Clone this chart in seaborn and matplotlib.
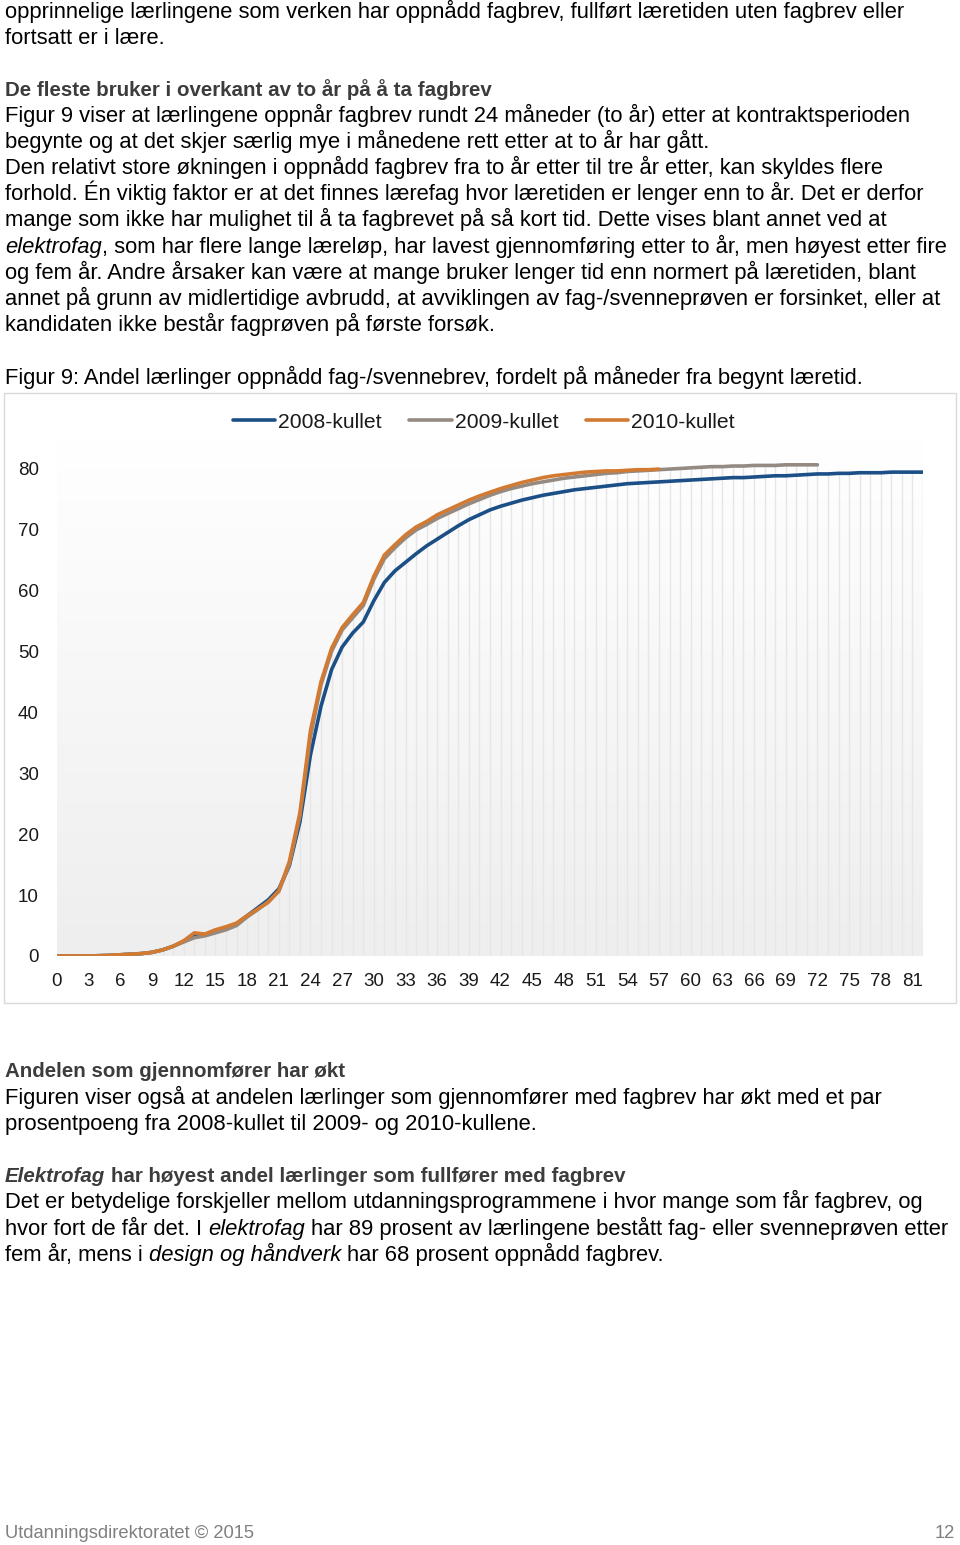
import numpy as np
import pandas as pd
import seaborn as sns
import matplotlib.pyplot as plt
from matplotlib.colors import LinearSegmentedColormap
from matplotlib.patches import Rectangle

# share (%) of apprentices with trade certificate, by month since start
kull_2008 = [0, 0, 0, 0, 0.05, 0.1, 0.2, 0.3, 0.4, 0.6, 1.0, 1.6, 2.4, 3.3, 3.5, 4.1, 4.7, 5.3,
             6.6, 7.9, 9.2, 11.0, 14.8, 22.0, 33.0, 41.0, 47.0, 50.7, 53.0, 54.8, 58.3, 61.3,
             63.2, 64.6, 66.0, 67.3, 68.4, 69.5, 70.6, 71.6, 72.4, 73.2, 73.8, 74.3, 74.8, 75.2,
             75.6, 75.9, 76.2, 76.5, 76.7, 76.9, 77.1, 77.3, 77.5, 77.6, 77.7, 77.8, 77.9, 78.0,
             78.1, 78.2, 78.3, 78.4, 78.5, 78.5, 78.6, 78.7, 78.8, 78.8, 78.9, 79.0, 79.1, 79.1,
             79.2, 79.2, 79.3, 79.3, 79.3, 79.4, 79.4, 79.4, 79.4]
kull_2009 = [0, 0, 0, 0, 0.05, 0.1, 0.2, 0.3, 0.4, 0.6, 1.0, 1.6, 2.3, 3.0, 3.3, 3.8, 4.3, 5.0,
             6.4, 7.6, 8.9, 10.6, 15.0, 23.0, 36.0, 44.5, 50.0, 53.5, 55.5, 57.5, 61.8, 65.2,
             67.0, 68.6, 69.9, 70.8, 71.8, 72.6, 73.4, 74.2, 74.9, 75.6, 76.2, 76.7, 77.1, 77.5,
             77.8, 78.1, 78.4, 78.6, 78.8, 79.0, 79.2, 79.3, 79.5, 79.6, 79.7, 79.8, 79.9, 80.0,
             80.1, 80.2, 80.3, 80.3, 80.4, 80.4, 80.5, 80.5, 80.5, 80.6, 80.6, 80.6, 80.6]
kull_2010 = [0, 0, 0, 0, 0.05, 0.1, 0.2, 0.3, 0.4, 0.6, 1.0, 1.6, 2.5, 3.8, 3.6, 4.3, 4.8, 5.4,
             6.6, 7.7, 8.8, 10.7, 15.5, 23.5, 37.0, 45.0, 50.5, 53.9, 56.0, 58.0, 62.3, 65.8,
             67.5, 69.1, 70.4, 71.3, 72.4, 73.2, 74.0, 74.8, 75.5, 76.1, 76.7, 77.2, 77.7, 78.1,
             78.5, 78.8, 79.0, 79.2, 79.4, 79.5, 79.6, 79.6, 79.7, 79.8, 79.8, 79.9]
kull_navn = ['2008-kullet', '2009-kullet', '2010-kullet']
kull_farger = ['#1b4f86', '#948a82', '#d27a32']
y_ticks = [0, 10, 20, 30, 40, 50, 60, 70, 80]
x_ticks = list(range(0, 82, 3))

W, H = 960, 1545
sns.set_style('white')
plt.rcParams['font.family'] = ['Liberation Sans', 'DejaVu Sans']

fig = plt.figure(figsize=(W / 100, H / 100), dpi=100)
renderer = fig.canvas.get_renderer()

rows = []
for navn, verdier in zip(kull_navn, [kull_2008, kull_2009, kull_2010]):
    for m, v in enumerate(verdier):
        rows.append({'maaned': m, 'andel': v, 'kull': navn})
df = pd.DataFrame(rows)

# chart frame
fig.patches.append(Rectangle((4 / W, 1 - 1003 / H), 952 / W, 610 / H, transform=fig.transFigure,
                             fill=False, edgecolor='#d9d9d9', linewidth=1))

ax = fig.add_axes([57 / W, 1 - 956 / H, 866 / W, 518 / H])
cmap = LinearSegmentedColormap.from_list('bg', ['#eeeeee', '#ffffff'])
ax.imshow(np.linspace(1, 0, 256).reshape(-1, 1), cmap=cmap, aspect='auto',
          extent=[0, 82, 0, 85], zorder=0, vmin=0, vmax=1)

# faint vertical category lines under the curves
topp = df.groupby('maaned')['andel'].max()
ax.vlines(topp.index, 0, topp.values, colors='#e6e6e6', linewidth=1.0, zorder=1)

sns.lineplot(data=df, x='maaned', y='andel', hue='kull', palette=kull_farger,
             linewidth=2.6, ax=ax, zorder=3)
handles, labels = ax.get_legend_handles_labels()
ax.get_legend().remove()
for h in handles:
    h.set_linewidth(2.6)

ax.set_xlim(0, 82)
ax.set_ylim(0, 85)
ax.set_xticks(x_ticks)
ax.set_xticklabels([str(t) for t in x_ticks])
ax.set_yticks(y_ticks)
ax.set_yticklabels([str(t) for t in y_ticks])
ax.tick_params(axis='both', length=0, labelsize=13.5, colors='#1a1a1a')
ax.tick_params(axis='y', pad=13)
ax.tick_params(axis='x', pad=12.5)
ax.set_xlabel('')
ax.set_ylabel('')
ax.grid(False)
sns.despine(ax=ax, left=True, bottom=True)

fig.legend(handles, labels, loc='center', bbox_to_anchor=(484 / W, 1 - 422 / H), ncol=3,
           frameon=False, fontsize=15.2, handlelength=2.0, handletextpad=0.15,
           columnspacing=1.3, labelcolor='#1a1a1a')

# page text
narrow = ['Liberation Sans Narrow', 'DejaVu Sans Condensed', 'Liberation Sans']


def text_width(s, **kw):
    t = fig.text(0, 0, s, **kw)
    w = t.get_window_extent(renderer).width
    t.remove()
    return w


body_size = 10 * 915 / text_width(
    'Figur 9 viser at lærlingene oppnår fagbrev rundt 24 måneder (to år) etter at kontraktsperioden',
    fontsize=10, family=['Liberation Sans'])
head_size = 10 * 489 / text_width('De fleste bruker i overkant av to år på å ta fagbrev',
                                  fontsize=10, family=narrow, weight='bold')
foot_size = 10 * 251 / text_width('Utdanningsdirektoratet © 2015', fontsize=10, family=narrow)

styles = {
    'n': dict(family=['Liberation Sans'], fontsize=body_size, color='#000000'),
    'i': dict(family=['Liberation Sans'], fontsize=body_size, color='#000000', style='italic'),
    'h': dict(family=narrow, fontsize=head_size, color='#3c3c3c', weight='bold'),
    'hi': dict(family=narrow, fontsize=head_size, color='#3c3c3c', weight='bold', style='italic'),
    'f': dict(family=narrow, fontsize=foot_size, color='#808080'),
}
space = {k: text_width('a a', **v) - text_width('aa', **v) for k, v in styles.items()}


def draw_line(y, runs, x=5):
    # y is the visual middle of the line; place on a common baseline
    for txt, st in runs:
        size_px = styles[st]['fontsize'] * 100 / 72
        base = y + 0.34 * size_px
        if txt.startswith(' '):
            x += space[st]
        t = fig.text(x / W, 1 - base / H, txt.strip(), va='baseline', ha='left', **styles[st])
        x = t.get_window_extent(renderer).x1
        if txt.endswith(' '):
            x += space[st]


lines = [
    (11, [('opprinnelige lærlingene som verken har oppnådd fagbrev, fullført læretiden uten fagbrev eller', 'n')]),
    (37, [('fortsatt er i lære.', 'n')]),
    (89, [('De fleste bruker i overkant av to år på å ta fagbrev', 'h')]),
    (115, [('Figur 9 viser at lærlingene oppnår fagbrev rundt 24 måneder (to år) etter at kontraktsperioden', 'n')]),
    (141, [('begynte og at det skjer særlig mye i månedene rett etter at to år har gått.', 'n')]),
    (167, [('Den relativt store økningen i oppnådd fagbrev fra to år etter til tre år etter, kan skyldes flere', 'n')]),
    (193, [('forhold. Én viktig faktor er at det finnes lærefag hvor læretiden er lenger enn to år. Det er derfor', 'n')]),
    (219, [('mange som ikke har mulighet til å ta fagbrevet på så kort tid. Dette vises blant annet ved at', 'n')]),
    (246, [('elektrofag', 'i'), (', som har flere lange læreløp, har lavest gjennomføring etter to år, men høyest etter fire', 'n')]),
    (272, [('og fem år. Andre årsaker kan være at mange bruker lenger tid enn normert på læretiden, blant', 'n')]),
    (298, [('annet på grunn av midlertidige avbrudd, at avviklingen av fag-/svenneprøven er forsinket, eller at', 'n')]),
    (324, [('kandidaten ikke består fagprøven på første forsøk.', 'n')]),
    (377, [('Figur 9: Andel lærlinger oppnådd fag-/svennebrev, fordelt på måneder fra begynt læretid.', 'n')]),
    (1070, [('Andelen som gjennomfører har økt', 'h')]),
    (1097, [('Figuren viser også at andelen lærlinger som gjennomfører med fagbrev har økt med et par', 'n')]),
    (1123, [('prosentpoeng fra 2008-kullet til 2009- og 2010-kullene.', 'n')]),
    (1175, [('Elektrofag', 'hi'), (' har høyest andel lærlinger som fullfører med fagbrev', 'h')]),
    (1201, [('Det er betydelige forskjeller mellom utdanningsprogrammene i hvor mange som får fagbrev, og', 'n')]),
    (1228, [('hvor fort de får det. I ', 'n'), ('elektrofag', 'i'),
            (' har 89 prosent av lærlingene bestått fag- eller svenneprøven etter', 'n')]),
    (1254, [('fem år, mens i ', 'n'), ('design og håndverk', 'i'), (' har 68 prosent oppnådd fagbrev.', 'n')]),
    (1532, [('Utdanningsdirektoratet © 2015', 'f')]),
]
for y, runs in lines:
    draw_line(y, runs)
fig.text(955 / W, 1 - (1532 + 0.34 * styles['f']['fontsize'] * 100 / 72) / H, '12',
         va='baseline', ha='right', **styles['f'])

fig.savefig('out.png', dpi=100)
